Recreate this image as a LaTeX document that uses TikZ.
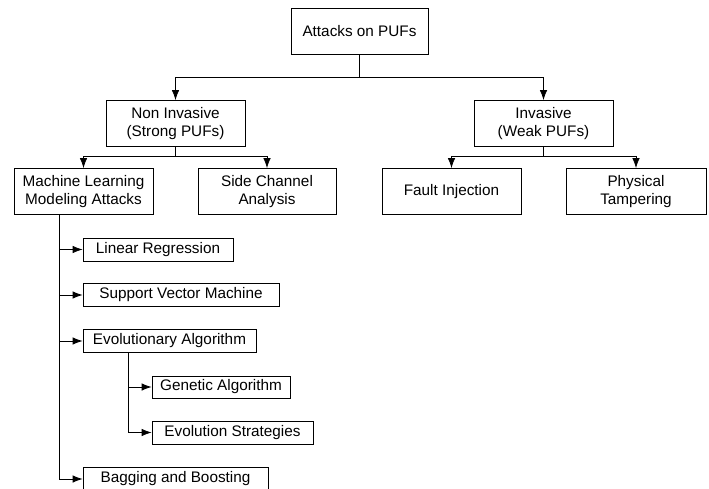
\documentclass[tikz,border=0pt]{standalone}
\usepackage{fontspec}
\setmainfont{Liberation Sans}
\usetikzlibrary{arrows.meta,calc}
\begin{document}
\begin{tikzpicture}[x=1pt,y=-1pt,
  box/.style={draw,line width=0.8pt,rectangle,inner sep=0pt,align=center,
    font=\fontsize{15.3}{18}\selectfont},
  bigbox/.style={box,minimum height=46pt},
  smallbox/.style={box,minimum height=23pt},
  conn/.style={line width=0.8pt},
  arr/.style={conn,-{Latex[length=10pt,width=7.5pt]}}]
\useasboundingbox (0,0) rectangle (709,489);
\node[bigbox,minimum width=137pt] (top) at (359.5,31) {Attacks on PUFs};
\node[bigbox,minimum width=139pt] (ni) at (175.5,123.5) {Non Invasive\\(Strong PUFs)};
\node[bigbox,minimum width=139pt] (inv) at (543.5,123.5) {Invasive\\(Weak PUFs)};
\node[bigbox,minimum width=139pt] (ml) at (83.5,191.5) {Machine Learning\\Modeling Attacks};
\node[bigbox,minimum width=138pt] (sc) at (267,191.5) {Side Channel\\Analysis};
\node[bigbox,minimum width=139pt] (fi) at (451.5,191.5) {Fault Injection};
\node[bigbox,minimum width=140pt] (pt) at (636,191.5) {Physical\\Tampering};
\node[smallbox,minimum width=150pt] (lr) at (158,249.5) {Linear Regression};
\node[smallbox,minimum width=196pt] (svm) at (181,295) {Support Vector Machine};
\node[smallbox,minimum width=173pt] (ea) at (169.5,341) {Evolutionary Algorithm};
\node[smallbox,minimum width=138pt,minimum height=22pt] (ga) at (221,387) {Genetic Algorithm};
\node[smallbox,minimum width=161pt] (es) at (232.5,432.5) {Evolution Strategies};
\node[smallbox,minimum width=185pt,minimum height=24pt] (bb) at (175.5,479) {Bagging and Boosting};
% top level
\draw[arr] (top.south) -- ++(0,23) -| (ni.north);
\draw[arr] (top.south) -- ++(0,23) -| (inv.north);
% second level
\draw[arr] (ni.south) -- ++(0,10) -| (ml.north);
\draw[arr] (ni.south) -- ++(0,10) -| (sc.north);
\draw[arr] (inv.south) -- ++(0,10) -| (fi.north);
\draw[arr] (inv.south) -- ++(0,10) -| (pt.north);
% ML list
\coordinate (mlt) at ($(ml.south west)+(46,0)$);
\draw[arr] (mlt) |- (lr.west);
\draw[arr] (mlt) |- (svm.west);
\draw[arr] (mlt) |- (ea.west);
\draw[arr] (mlt) |- (bb.west);
% EA list
\coordinate (eat) at ($(ea.south west)+(46,0)$);
\draw[arr] (eat) |- (ga.west);
\draw[arr] (eat) |- (es.west);
\end{tikzpicture}
\end{document}
